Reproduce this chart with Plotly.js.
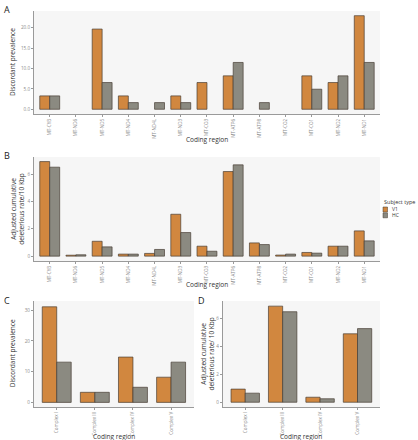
<!DOCTYPE html>
<html><head><meta charset="utf-8">
<script src="https://cdn.plot.ly/plotly-3.0.1.min.js"></script>
<style>html,body{margin:0;padding:0;background:#fff}#chart{width:418px;height:440px}</style>
</head><body><div id="chart"></div>
<script>
const genes = ["MT-CYB","MT-ND6","MT-ND5","MT-ND4","MT-ND4L","MT-ND3","MT-CO3","MT-ATP6","MT-ATP8","MT-CO2","MT-CO1","MT-ND2","MT-ND1"];
const complexes = ["Complex I","Complex III","Complex IV","Complex V"];
const seriesNames = ["V1","HC"];
// Panel A: discordant prevalence (%)
const prevGeneV1 = [3.28,0,19.67,3.28,0,3.28,6.56,8.2,0,0,8.2,6.56,22.95];
const prevGeneHC = [3.28,0,6.56,1.64,1.64,1.64,0,11.48,1.64,0,4.92,8.2,11.48];
// Panel B: adjusted cumulative deleterious rate / 10 Kbp
const rateGeneV1 = [6.93,0.07,1.09,0.15,0.2,3.07,0.73,6.2,0.97,0.08,0.27,0.73,1.85];
const rateGeneHC = [6.52,0.1,0.68,0.15,0.49,1.73,0.36,6.69,0.85,0.15,0.22,0.73,1.12];
// Panel C: discordant prevalence by complex (%)
const prevCplxV1 = [31.1,3.28,14.75,8.2];
const prevCplxHC = [13.1,3.28,4.92,13.1];
// Panel D: adjusted rate by complex
const rateCplxV1 = [0.94,6.88,0.36,4.9];
const rateCplxHC = [0.65,6.48,0.25,5.27];

const cV1 = "#d1873f", cHC = "#8b8a81";
const line = {color:"rgba(70,60,50,0.85)", width:0.8};
function bar(x,y,name,color,xa,ya){
  return {type:"bar",x:x,y:y.map(v=>v===0?null:v),name:name,marker:{color:color,line:line},xaxis:xa,yaxis:ya,showlegend:false};
}
const traces = [
  bar(genes,prevGeneV1,seriesNames[0],cV1,"x","y"),
  bar(genes,prevGeneHC,seriesNames[1],cHC,"x","y"),
  bar(genes,rateGeneV1,seriesNames[0],cV1,"x2","y2"),
  bar(genes,rateGeneHC,seriesNames[1],cHC,"x2","y2"),
  bar(complexes,prevCplxV1,seriesNames[0],cV1,"x3","y3"),
  bar(complexes,prevCplxHC,seriesNames[1],cHC,"x3","y3"),
  bar(complexes,rateCplxV1,seriesNames[0],cV1,"x4","y4"),
  bar(complexes,rateCplxHC,seriesNames[1],cHC,"x4","y4")
];
const tickFont = {family:"Open Sans, sans-serif", size:4.6, color:"#8a8a8a"};
function xax(domain, anchor, n){
  return {domain:domain, anchor:anchor, range:[-0.6, n-0.4], tickangle:-90, tickfont:tickFont,
    showline:true, linecolor:"#9a9a9a", linewidth:1, ticks:"outside", ticklen:2, tickcolor:"#9a9a9a",
    showgrid:false, zeroline:false, fixedrange:true, automargin:false};
}
function yax(domain, anchor, range, extra){
  return Object.assign({domain:domain, anchor:anchor, range:range, tickfont:tickFont,
    showline:true, linecolor:"#9a9a9a", linewidth:1, ticks:"outside", ticklen:2, tickcolor:"#9a9a9a",
    showgrid:false, zeroline:false, fixedrange:true, automargin:false}, extra);
}
const titleFont = {family:"Open Sans, sans-serif", size:6.5, color:"#333"};
const letterFont = {family:"Open Sans, sans-serif", size:9, color:"#222"};
const legFont = {family:"Open Sans, sans-serif", size:5.5, color:"#333"};
function ann(text,x,y,font,extra){
  return Object.assign({text:text,x:x,y:y,xref:"paper",yref:"paper",showarrow:false,font:font},extra);
}
// custom legend (paper coords)
const legX = 383/418, legTop = 1-202/440;
const legendShapes = seriesNames.map((n,i)=>({type:"rect",xref:"paper",yref:"paper",
  x0:legX, x1:legX+4.5/418, y0:1-(212+i*5.8)/440, y1:1-(207+i*5.8)/440,
  fillcolor:[cV1,cHC][i], line:{color:"rgba(70,60,50,0.85)",width:0.6}}));
const legendAnns = [ann("Subject type",legX-0.5/418,legTop,legFont,{xanchor:"left",yanchor:"middle"})]
  .concat(seriesNames.map((n,i)=>ann(n,legX+6.5/418,1-(209.5+i*5.8)/440,{family:"Open Sans, sans-serif",size:5,color:"#333"},{xanchor:"left",yanchor:"middle"})));
const layout = {
  width:418, height:440, margin:{l:0,r:0,t:0,b:0},
  paper_bgcolor:"#fff", plot_bgcolor:"#f6f6f6",
  barmode:"group", bargap:0.24, bargroupgap:0,
  font:{family:"Open Sans, sans-serif"},
  showlegend:false,
  xaxis: xax([0.0813,0.909],"y",13),
  yaxis: yax([0.741,0.975],"x",[-1.15,24.1],{tickvals:[0,5,10,15,20],tickformat:".1f",ticksuffix:"%"}),
  xaxis2: xax([0.0813,0.909],"y2",13),
  yaxis2: yax([0.407,0.643],"x2",[-0.35,7.26],{tickvals:[0,2,4,6]}),
  xaxis3: xax([0.081,0.464],"y3",4),
  yaxis3: yax([0.075,0.316],"x3",[-1.5,33],{tickvals:[0,10,20,30],ticksuffix:"%"}),
  xaxis4: xax([0.533,0.909],"y4",4),
  yaxis4: yax([0.075,0.316],"x4",[-0.34,7.25],{tickvals:[0,2,4,6]}),
  shapes: legendShapes,
  annotations:[
    ann("A",0.004,0.997,letterFont,{xanchor:"left",yanchor:"top"}),
    ann("B",0.004,0.667,letterFont,{xanchor:"left",yanchor:"top"}),
    ann("C",0.004,0.337,letterFont,{xanchor:"left",yanchor:"top"}),
    ann("D",0.469,0.337,letterFont,{xanchor:"left",yanchor:"top"}),
    ann("Coding region",0.495,0.684,titleFont,{xanchor:"center",yanchor:"middle"}),
    ann("Coding region",0.495,0.353,titleFont,{xanchor:"center",yanchor:"middle"}),
    ann("Coding region",0.272,0.009,titleFont,{xanchor:"center",yanchor:"middle"}),
    ann("Coding region",0.72,0.009,titleFont,{xanchor:"center",yanchor:"middle"}),
    ann("Discordant prevalence",0.03,0.858,titleFont,{textangle:-90,xanchor:"center",yanchor:"middle"}),
    ann("Adjusted cumulative<br>deleterious rate/10 Kbp",0.04,0.525,titleFont,{textangle:-90,xanchor:"center",yanchor:"middle"}),
    ann("Discordant prevalence",0.03,0.196,titleFont,{textangle:-90,xanchor:"center",yanchor:"middle"}),
    ann("Adjusted cumulative<br>deleterious rate/ 10 Kbp",0.497,0.196,titleFont,{textangle:-90,xanchor:"center",yanchor:"middle"})
  ].concat(legendAnns)
};
Plotly.newPlot("chart", traces, layout, {staticPlot:true, displayModeBar:false});
</script></body></html>
